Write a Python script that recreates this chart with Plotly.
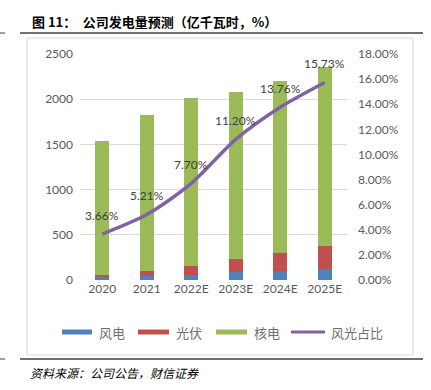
import plotly.graph_objects as go

years = ["2020", "2021", "2022E", "2023E", "2024E", "2025E"]
wind = [30, 45, 55, 85, 96, 122]
solar = [26, 50, 100, 148, 207, 249]
nuclear = [1481, 1730, 1858, 1847, 1897, 1985]
share = [0.0366, 0.0521, 0.0770, 0.1120, 0.1376, 0.1573]
share_labels = ["3.66%", "5.21%", "7.70%", "11.20%", "13.76%", "15.73%"]
left_ticks = [0, 500, 1000, 1500, 2000, 2500]
right_ticks = [i * 0.02 for i in range(10)]
legend_names = ["风电", "光伏", "核电", "风光占比"]

W, H = 431, 390
L, R, T, B = 80, 347, 54, 280

def px(x):
    return (x - L) / (R - L)

def py(y):
    return (B - y) / (B - T)

GRAY = "#595959"
FONT = "Lato, 'Noto Sans CJK SC', sans-serif"
CJK = "'Noto Sans CJK SC', sans-serif"

colors = {"风电": "#4F81BD", "光伏": "#C0504D", "核电": "#9BBB59", "风光占比": "#8064A2"}

fig = go.Figure()
for name, vals in [("风电", wind), ("光伏", solar), ("核电", nuclear)]:
    fig.add_trace(go.Bar(x=years, y=vals, name=name, marker_color=colors[name],
                         marker_line_width=0, showlegend=False))
fig.add_trace(go.Scatter(x=years, y=share, yaxis="y2", mode="lines",
                         line=dict(color=colors["风光占比"], width=3.5, shape="spline", smoothing=0.8),
                         showlegend=False))
for i, (yv, lab) in enumerate(zip(share, share_labels)):
    fig.add_annotation(x=i, y=yv, xref="x", yref="y2", text=lab, showarrow=False,
                       yshift=19, font=dict(size=12, color="#404040", family=FONT))

fig.update_layout(
    width=W, height=H,
    margin=dict(l=L, r=W - R, t=T, b=H - B),
    paper_bgcolor="white", plot_bgcolor="white",
    barmode="stack", bargap=0.69,
    showlegend=False,
    font=dict(family=FONT, size=12, color=GRAY),
    xaxis=dict(type="category", range=[-0.5, len(years) - 0.5], showgrid=False, showline=False,
               ticks="", tickfont=dict(size=12, color=GRAY)),
    yaxis=dict(range=[0, 2500], tickvals=left_ticks, showgrid=True, gridcolor="#D9D9D9",
               gridwidth=1, zeroline=False, showline=False, ticks="",
               tickfont=dict(size=12, color=GRAY), ticklabelstandoff=6),
    yaxis2=dict(range=[0, 0.18], tickvals=right_ticks, tickformat=".2%", overlaying="y",
                side="right", showgrid=False, zeroline=False, showline=False, ticks="",
                tickfont=dict(size=12, color=GRAY), ticklabelstandoff=10),
)

shapes = [
    dict(type="rect", xref="paper", yref="paper", x0=px(27), x1=px(413), y0=py(355), y1=py(38),
         line=dict(color="#D9D9D9", width=1), layer="below"),
    dict(type="line", xref="paper", yref="paper", x0=px(20), x1=px(423), y0=py(33), y1=py(33),
         line=dict(color="#404040", width=1.5)),
    dict(type="line", xref="paper", yref="paper", x0=px(20), x1=px(423), y0=py(359), y1=py(359),
         line=dict(color="#404040", width=1.5)),
    dict(type="line", xref="paper", yref="paper", x0=px(0), x1=px(5), y0=py(33), y1=py(33),
         line=dict(color="#404040", width=1)),
    dict(type="line", xref="paper", yref="paper", x0=px(0), x1=px(5), y0=py(359), y1=py(359),
         line=dict(color="#404040", width=1)),
]

# manual legend
legend_swatch = [(62, 92, 5), (138, 169, 5), (216, 247, 5), (291, 325, 3)]
legend_text_x = [97, 174, 252, 329]
LEG_Y = 332
for name, (x0, x1, w), tx in zip(legend_names, legend_swatch, legend_text_x):
    shapes.append(dict(type="line", xref="paper", yref="paper", x0=px(x0), x1=px(x1),
                       y0=py(LEG_Y), y1=py(LEG_Y), line=dict(color=colors[name], width=w)))
    fig.add_annotation(text=name, xref="paper", yref="paper", x=px(tx), y=py(LEG_Y),
                       xanchor="left", yanchor="middle", showarrow=False,
                       font=dict(size=13, color="#6f6f6f", family=CJK))
fig.update_layout(shapes=shapes)

title = "图 11：\u2002公司发电量预测（亿千瓦时，%）"
fig.add_annotation(text="<b>" + title + "</b>", xref="paper", yref="paper", x=px(30), y=py(21),
                   xanchor="left", yanchor="middle", showarrow=False,
                   font=dict(size=13, color="#000000", family=CJK))
fig.add_annotation(text="<i>资料来源：公司公告，财信证券</i>", xref="paper", yref="paper",
                   x=px(28), y=py(372), xanchor="left", yanchor="middle", showarrow=False,
                   font=dict(size=12, color="#000000", family=CJK))

fig.write_html("out.html", config={"displayModeBar": False},
               post_script="document.body.style.margin='0';")
